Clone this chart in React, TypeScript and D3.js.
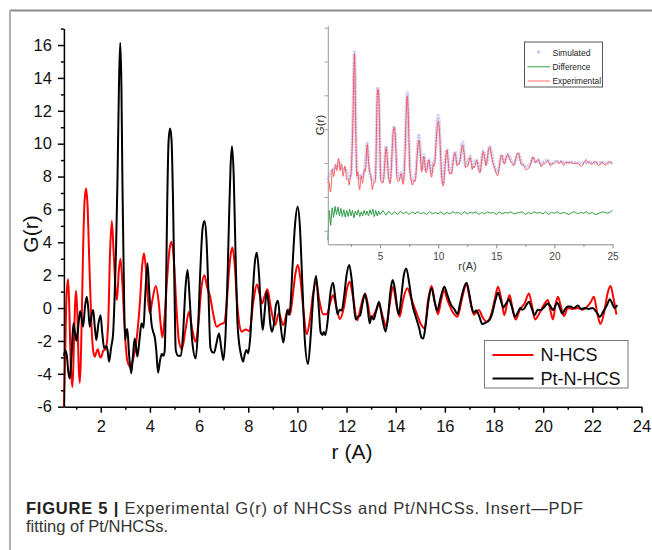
import React, { useEffect, useRef } from 'react';
import * as d3 from 'd3';

type Pt = [number, number];

// N-HCS, G(r) vs r (A)
const nHcs: Pt[] = [
  [0.5, -6], [0.55, -3], [0.6, 0.5], [0.67, 1.75], [0.72, 0], [0.78, -3.5], [0.85, -4.8], [0.91, -2], [0.96, 0.4],
  [1.0, 1.05], [1.05, -0.5], [1.1, -3.5], [1.15, -4.55], [1.2, -2.5], [1.28, 3.5], [1.34, 6.5], [1.4, 7.28],
  [1.46, 6.3], [1.53, 3], [1.62, -1], [1.7, -2.7], [1.76, -2.96], [1.82, -2.7], [1.88, -2.5], [1.95, -2.9],
  [2.01, -3.0], [2.1, -2.6], [2.2, -2.5], [2.3, -1], [2.38, 3.5], [2.45, 5.29], [2.52, 3.5], [2.6, 1.2],
  [2.66, 0.49], [2.73, 2.2], [2.8, 3.0], [2.88, 1.5], [2.98, -1.5], [3.08, -3.2], [3.2, -3.57], [3.3, -3.2],
  [3.45, -2], [3.6, 0.5], [3.68, 2.5], [3.76, 3.33], [3.84, 2.3], [3.92, 0.5], [4.0, -0.3], [4.1, 0.5],
  [4.24, 1.34], [4.36, 0.3], [4.45, -1.2], [4.51, -1.78], [4.6, -0.5], [4.7, 1.8], [4.8, 3.6], [4.88, 4.03],
  [4.97, 3.0], [5.08, 0], [5.18, -2.0], [5.3, -2.5], [5.45, -1.3], [5.59, -0.22], [5.72, -1.3], [5.86, -2.05],
  [5.98, -0.8], [6.1, 1.3], [6.22, 2.0], [6.32, 1.3], [6.45, 0.69], [6.58, -0.4], [6.72, -1.14], [6.85, -1.0],
  [7.02, -0.89], [7.12, 0.2], [7.22, 2.3], [7.3, 3.4], [7.36, 3.69], [7.45, 2.6], [7.55, 0.3], [7.65, -1.1],
  [7.74, -1.44], [7.9, -1.3], [8.05, -1.4], [8.2, 0.3], [8.35, 1.44], [8.47, 0.8], [8.56, 0.28], [8.66, 0.7],
  [8.78, 1.14], [8.92, 0], [9.1, -1.03], [9.24, -0.32], [9.43, -1.03], [9.55, -0.4], [9.62, -0.08], [9.7, -0.4],
  [9.8, 0.6], [9.92, 2.1], [10.02, 2.62], [10.12, 1.8], [10.25, -0.2], [10.38, -1.6], [10.5, -0.8], [10.63, 0.8],
  [10.76, 1.6], [10.9, 0.4], [11.05, -0.37], [11.2, -0.37], [11.33, 0.3], [11.45, 0.79], [11.58, 0.1],
  [11.73, -0.67], [11.9, 0.1], [12.02, 1.2], [12.13, 1.6], [12.27, 0.6], [12.43, -0.75], [12.6, 0.2],
  [12.75, 0.89], [12.87, 0.2], [12.98, -0.63], [13.15, -0.3], [13.32, 0.18], [13.47, -0.5], [13.62, -1.14],
  [13.75, 0.2], [13.89, 1.3], [14.02, 0.3], [14.16, -0.53], [14.3, 0.5], [14.47, 1.2], [14.65, 0.5],
  [14.87, -0.4], [15.03, -1.0], [15.18, -1.24], [15.3, 0.3], [15.46, 1.34], [15.6, 0.3], [15.72, -0.37],
  [15.84, 0.4], [15.96, 1.1], [16.1, 0.5], [16.3, -0.2], [16.51, -0.53], [16.7, 0.6], [16.88, 1.46],
  [17.02, 0.5], [17.18, -0.4], [17.38, -0.12], [17.55, -0.6], [17.7, -0.83], [17.9, -0.3], [18.04, 0.6],
  [18.16, 1.3], [18.3, 0.5], [18.42, -0.43], [18.52, 0.2], [18.63, 0.79], [18.75, 0], [18.88, -0.69],
  [19.05, -0.1], [19.25, 0.3], [19.42, 0.89], [19.55, 0.1], [19.67, -0.69], [19.85, -0.3], [20.03, 0.2],
  [20.19, 0.49], [20.3, -0.2], [20.4, -0.69], [20.5, 0.2], [20.6, 0.69], [20.72, 0.1], [20.84, -0.49],
  [21.0, 0.0], [21.2, -0.05], [21.4, 0.0], [21.6, -0.1], [21.8, 0.1], [21.95, 0.4], [22.06, 0.69],
  [22.2, -0.3], [22.33, -0.97], [22.5, -0.1], [22.62, 0.9], [22.74, 1.34], [22.86, 0.6], [22.98, -0.4],
];

// Pt-N-HCS, G(r) vs r (A)
const ptNhcs: Pt[] = [
  [0.5, -2.9], [0.56, -2.6], [0.62, -2.9], [0.68, -3.9], [0.74, -4.28], [0.8, -3.2], [0.89, -0.93], [0.95, -1.5],
  [1.01, -1.99], [1.08, -1.2], [1.16, -0.18], [1.22, -0.6], [1.28, -1.13], [1.36, 0.1], [1.43, 0.69], [1.49, 0],
  [1.55, -1.14], [1.62, -0.5], [1.69, -0.12], [1.76, -1.2], [1.82, -1.95], [1.9, -1.0], [1.99, -0.43],
  [2.06, -1.5], [2.14, -2.45], [2.22, -2.3], [2.27, -2.5], [2.34, -3.26], [2.42, -2.4], [2.5, -1.6], [2.56, 0.5],
  [2.62, 3.5], [2.68, 7.8], [2.74, 13.5], [2.79, 16.14], [2.84, 13.5], [2.88, 7.8], [2.93, 2.5], [2.99, -1.95],
  [3.04, -1.4], [3.08, -1.28], [3.15, -2.8], [3.24, -3.97], [3.31, -2.9], [3.38, -1.85], [3.44, -2.4],
  [3.49, -2.96], [3.57, -2.0], [3.66, -0.93], [3.74, -1.2], [3.8, 0.5], [3.9, 2.72], [3.98, 0.8], [4.06, -0.9],
  [4.13, -1.44], [4.2, -1.8], [4.26, -2.6], [4.33, -3.93], [4.41, -3.2], [4.48, -2.8], [4.55, -2.9], [4.6, -2.6],
  [4.65, 0.5], [4.7, 6], [4.76, 10.2], [4.82, 10.93], [4.88, 10.2], [4.94, 6.5], [5.0, 1], [5.05, -2.55],
  [5.15, -2.9], [5.26, -2.9], [5.35, -1.5], [5.45, 1.3], [5.53, 2.31], [5.62, 0.5], [5.72, -2.0], [5.86, -3.06],
  [5.95, -1.5], [6.05, 2.3], [6.14, 4.8], [6.22, 5.29], [6.3, 4.2], [6.38, 1.0], [6.46, -2.4], [6.55, -2.7],
  [6.61, -2.72], [6.7, -2.2], [6.81, -1.54], [6.9, -2.4], [6.99, -3.16], [7.08, -1.5], [7.16, 2.0], [7.22, 5.5],
  [7.28, 8.6], [7.34, 9.85], [7.41, 8.0], [7.48, 3.5], [7.55, -0.5], [7.63, -2.15], [7.7, -2.8], [7.79, -3.26],
  [7.86, -2.8], [7.93, -2.55], [8.0, -2.75], [8.08, -1.8], [8.18, 0.8], [8.27, 2.8], [8.35, 3.37], [8.44, 2.0],
  [8.52, -0.2], [8.59, -1.34], [8.67, -0.2], [8.75, 1.0], [8.83, 0.2], [8.9, -1.0], [8.97, -1.44], [9.05, -0.9],
  [9.13, 0.2], [9.21, 0.45], [9.3, -0.8], [9.43, -2.1], [9.52, -1.0], [9.59, -0.12], [9.66, -0.4], [9.72, 0.2],
  [9.8, 2.5], [9.9, 5.0], [10.01, 6.16], [10.1, 5.0], [10.2, 1.5], [10.3, -1.9], [10.43, -3.41], [10.55, -1.5],
  [10.65, 0.8], [10.76, 1.95], [10.86, 0.2], [10.95, -1.5], [11.02, -1.64], [11.07, -1.45], [11.14, -1.64],
  [11.25, -0.5], [11.35, 1.0], [11.45, 1.54], [11.55, 0.5], [11.63, -0.37], [11.72, -0.1], [11.8, -0.15],
  [11.9, 0.7], [12.0, 2.0], [12.11, 2.62], [12.22, 1.6], [12.37, -0.69], [12.48, -0.5], [12.55, -0.45],
  [12.65, 0.3], [12.75, 0.85], [12.85, 0.1], [12.94, -0.93], [13.02, -0.5], [13.1, -0.7], [13.2, -0.2],
  [13.32, 0.39], [13.45, -0.6], [13.59, -1.44], [13.7, -0.3], [13.8, 1.2], [13.88, 1.7], [13.98, 1.0],
  [14.06, 0], [14.13, -0.39], [14.22, 0.6], [14.33, 2.0], [14.43, 2.41], [14.55, 1.5], [14.68, 0.2],
  [14.81, -0.5], [14.95, -1.2], [15.05, -1.8], [15.12, -1.85], [15.22, -1.0], [15.35, 0.6], [15.46, 1.2],
  [15.58, 0.4], [15.69, -0.16], [15.82, 0.6], [15.98, 1.3], [16.1, 0.8], [16.25, 0.2], [16.4, -0.1],
  [16.51, -0.37], [16.62, 0.3], [16.75, 1.1], [16.88, 1.54], [17.0, 0.8], [17.1, 0.0], [17.18, -0.28],
  [17.28, -0.15], [17.4, -0.5], [17.52, -0.97], [17.65, -0.9], [17.83, -0.69], [17.95, -0.2], [18.06, 0.5],
  [18.16, 0.93], [18.27, 0.5], [18.38, 0.04], [18.5, 0.3], [18.6, 0.53], [18.72, 0.1], [18.85, -0.53],
  [18.96, -0.3], [19.07, 0.0], [19.15, -0.1], [19.22, -0.05], [19.32, 0.2], [19.42, 0.39], [19.53, 0],
  [19.65, -0.43], [19.78, -0.1], [19.9, -0.12], [20.03, 0.04], [20.19, 0.28], [20.3, 0.1], [20.4, -0.12],
  [20.57, 0.32], [20.68, 0.0], [20.77, -0.33], [20.9, -0.05], [21.0, 0.1], [21.1, 0.1], [21.25, 0.0],
  [21.41, 0.15], [21.55, -0.05], [21.7, 0.0], [21.85, -0.05], [22.0, 0.0], [22.15, -0.2], [22.3, -0.53],
  [22.45, -0.2], [22.6, 0.2], [22.71, 0.53], [22.8, 0.3], [22.9, 0.0], [23.01, 0.18],
];

// inset: experimental continues past 23 A
const expTail: Pt[] = [
  [23.2, -0.2], [23.5, 0.3], [23.8, -0.4], [24.1, 0.1], [24.4, -0.3], [24.7, 0.2], [25.0, -0.1],
];

// inset: simulated PDF
const simulated: Pt[] = [
  [0.5, -2.5], [0.7, -1.5], [0.9, -1.0], [1.1, -0.8], [1.3, -0.5], [1.45, 0.2], [1.6, -0.6], [1.8, -0.8],
  [2.0, -0.9], [2.2, -1.6], [2.35, -2.2], [2.5, -1.5], [2.6, 3], [2.68, 8], [2.74, 13.5], [2.79, 16.4],
  [2.84, 13.5], [2.9, 7], [2.97, 0.5], [3.05, -1.5], [3.2, -2.4], [3.35, -1.8], [3.5, -2.0], [3.7, -0.5],
  [3.9, 2.9], [4.05, -0.5], [4.2, -2.0], [4.35, -2.6], [4.55, -2.4], [4.65, 1], [4.72, 7], [4.8, 11.2],
  [4.88, 10], [4.95, 5], [5.03, -1.5], [5.2, -2.6], [5.35, -1.0], [5.52, 2.5], [5.68, -1.0], [5.85, -2.6],
  [6.0, 0.5], [6.12, 4.5], [6.22, 5.4], [6.35, 2.5], [6.5, -2.0], [6.65, -2.2], [6.8, -1.4], [6.98, -2.6],
  [7.15, 2], [7.28, 9], [7.34, 10.4], [7.43, 7], [7.55, -0.3], [7.7, -2.3], [7.85, -2.6], [8.02, -2.2],
  [8.2, 1.5], [8.33, 4.1], [8.45, 2], [8.6, -1.0], [8.75, 1.2], [8.95, -1.1], [9.2, 0.6], [9.42, -1.6],
  [9.6, 0], [9.72, 0.5], [9.88, 5.2], [10.0, 7.0], [10.12, 5], [10.28, -1.5], [10.43, -3.0], [10.6, 0.5],
  [10.76, 2.0], [10.95, -1.2], [11.1, -1.3], [11.3, 0.8], [11.45, 1.7], [11.63, -0.2], [11.85, 0.2],
  [12.1, 3.1], [12.35, -0.4], [12.75, 1.0], [12.95, -0.7], [13.3, 0.5], [13.58, -1.2], [13.88, 1.8],
  [14.13, -0.2], [14.43, 2.4], [14.8, -0.3], [15.12, -1.5], [15.45, 1.2], [15.7, 0.0], [15.98, 1.3],
  [16.5, -0.2], [16.88, 1.4], [17.2, 0.0], [17.55, -0.5], [17.85, -0.3], [18.16, 0.8], [18.4, 0.1],
  [18.6, 0.5], [18.85, -0.2], [19.1, 0.2], [19.42, 0.4], [19.7, -0.1], [20.1, 0.2], [20.6, 0.2], [21.0, 0.1],
  [21.5, 0.1], [22.0, 0.0], [22.5, 0.0], [23.0, 0.1], [23.5, 0.0], [24.0, 0.1], [24.5, 0.0], [25.0, 0.1],
];

// inset: difference curve (plotted offset), 0.5..5.0 every 0.125, then 5.25..25 every 0.25
const diffFine = [
  -11.4, -7.0, -9.2, -6.6, -8.0, -6.4, -7.6, -6.5, -7.8, -6.7,
  -7.9, -6.9, -8.0, -7.0, -7.9, -6.8, -7.8, -7.0, -8.1, -7.1,
  -7.7, -6.9, -7.9, -7.2, -7.8, -7.0, -7.7, -7.1, -7.8, -6.9,
  -7.6, -6.8, -7.9, -7.0, -7.8, -7.1, -7.6,
];
const diffCoarse = [
  -7.0, -7.7, -7.1, -7.6, -7.2, -7.6, -7.1, -7.5, -7.2, -7.6,
  -7.2, -7.5, -7.2, -7.5, -7.3, -7.6, -7.2, -7.5, -7.3, -7.5,
  -7.2, -7.6, -7.3, -7.5, -7.2, -7.4, -7.3, -7.6, -7.2, -7.5,
  -7.3, -7.4, -7.2, -7.6, -7.3, -7.5, -7.2, -7.4, -7.3, -7.6,
  -7.2, -7.5, -7.3, -7.4, -7.2, -7.5, -7.4, -7.3, -7.2, -7.6,
  -7.3, -7.5, -7.2, -7.4, -7.3, -7.5, -7.2, -7.6, -7.3, -7.4,
  -7.2, -7.5, -7.3, -7.4, -7.6, -7.3, -7.2, -7.5, -7.3, -7.4,
  -7.2, -7.5, -7.3, -7.6, -7.5, -7.3, -7.2, -7.4, -7.3, -7.0,
];

const xTicks = [2, 4, 6, 8, 10, 12, 14, 16, 18, 20, 22, 24];
const xMinor = [1, 3, 5, 7, 9, 11, 13, 15, 17, 19, 21, 23];
const yTicks = [-6, -4, -2, 0, 2, 4, 6, 8, 10, 12, 14, 16];
const yMinor = [-5, -3, -1, 1, 3, 5, 7, 9, 11, 13, 15, 17];
const inXTicks = [5, 10, 15, 20, 25];
const inXMinor = [2.5, 7.5, 12.5, 17.5, 22.5];
const inYTicks = [-10, -5, 0, 5, 10, 15, 20];

const series = [
  { name: 'N-HCS', color: '#ff0000', data: nHcs },
  { name: 'Pt-N-HCS', color: '#000000', data: ptNhcs },
];

const FONT = '"Liberation Sans", Arial, Helvetica, sans-serif';
const plain = (d: any) => String(d); // hyphen minus, as in the figure

export default function App() {
  const ref = useRef<SVGSVGElement>(null);

  // main scales
  const x = d3.scaleLinear().domain([0.5, 24]).range([63.9, 641.5]);
  const y = d3.scaleLinear().domain([-6, 17]).range([406.7, 28.6]);
  // inset scales
  const ix = d3.scaleLinear().domain([0.5, 25]).range([327.8, 612.5]);
  const iy = d3.scaleLinear().domain([-12, 20.3]).range([244.3, 25.6]);

  const line = d3.line<Pt>().x(d => x(d[0])).y(d => y(d[1])).curve(d3.curveMonotoneX);
  const iline = d3.line<Pt>().x(d => ix(d[0])).y(d => iy(d[1])).curve(d3.curveMonotoneX);
  const dline = d3.line<Pt>().x(d => ix(d[0])).y(d => iy(d[1]));

  const expData: Pt[] = ptNhcs.concat(expTail);
  const diffData: Pt[] = diffFine.map((v, i) => [0.5 + i * 0.125, v] as Pt)
    .concat(diffCoarse.map((v, i) => [5.25 + i * 0.25, v] as Pt));

  useEffect(() => {
    const svg = d3.select(ref.current);

    const style = (g: any, size: number, color: string, width: number, fill: string) => {
      g.attr('font-size', null).attr('font-family', null);
      g.selectAll('.domain').attr('stroke', color).attr('stroke-width', width);
      g.selectAll('.tick line').attr('stroke', color).attr('stroke-width', width);
      g.selectAll('text').attr('font-size', size).attr('font-family', FONT).attr('fill', fill);
    };

    // main axes
    svg.select('.x-minor')
      .call(d3.axisBottom(x).tickValues(xMinor).tickSize(3).tickFormat(() => '') as any)
      .call((g: any) => { g.select('.domain').remove(); style(g, 16, '#000', 1.5, '#000'); });
    svg.select('.x-axis')
      .call(d3.axisBottom(x).tickValues(xTicks).tickSize(6).tickSizeOuter(0).tickPadding(8).tickFormat(plain) as any)
      .call((g: any) => style(g, 16.5, '#000', 1.5, '#111'));
    svg.select('.y-minor')
      .call(d3.axisLeft(y).tickValues(yMinor).tickSize(3).tickFormat(() => '') as any)
      .call((g: any) => { g.select('.domain').remove(); style(g, 16, '#000', 1.5, '#000'); });
    svg.select('.y-axis')
      .call(d3.axisLeft(y).tickValues(yTicks).tickSize(6).tickSizeOuter(0).tickPadding(6).tickFormat(plain) as any)
      .call((g: any) => style(g, 16.5, '#000', 1.5, '#111'));

    // inset axes
    svg.select('.ix-minor')
      .call(d3.axisBottom(ix).tickValues(inXMinor).tickSize(2.5).tickFormat(() => '') as any)
      .call((g: any) => { g.select('.domain').remove(); style(g, 10, '#888', 1, '#444'); });
    svg.select('.ix-axis')
      .call(d3.axisBottom(ix).tickValues(inXTicks).tickSize(4).tickSizeOuter(0).tickPadding(5).tickFormat(plain) as any)
      .call((g: any) => style(g, 10, '#888', 1, '#444'));
    svg.select('.iy-axis')
      .call(d3.axisLeft(iy).tickValues(inYTicks).tickSize(3).tickSizeOuter(0).tickFormat(() => '') as any)
      .call((g: any) => style(g, 10, '#999', 1, '#444'));
  }, []);

  return (
    <svg ref={ref} width={652} height={550}
      style={{ position: 'absolute', left: 0, top: 0, background: '#fff' }}>
      {/* figure frame */}
      <line x1={10} y1={10.5} x2={652} y2={10.5} stroke="#8a8a8a" strokeWidth={2} />
      <line x1={10} y1={10} x2={10} y2={550} stroke="#b0b0b0" strokeWidth={2} />

      {/* main curves */}
      {series.map(s => (
        <path key={s.name} d={line(s.data) || ''} fill="none" stroke={s.color}
          strokeWidth={2} strokeLinejoin="round" />
      ))}

      <g className="x-minor" transform={`translate(0,${y(-6)})`} />
      <g className="x-axis" transform={`translate(0,${y(-6)})`} />
      <g className="y-minor" transform={`translate(${x(0.5)},0)`} />
      <g className="y-axis" transform={`translate(${x(0.5)},0)`} />

      <text x={30} y={234} transform="rotate(-90 30 234)" textAnchor="middle" dominantBaseline="central"
        fontSize={21} fontFamily={FONT} fill="#111">G(r)</text>
      <text x={352} y={459} textAnchor="middle" fontSize={21} fontFamily={FONT} fill="#111">r (A)</text>

      {/* main legend */}
      <rect x={484.5} y={340.5} width={143.5} height={47.5} fill="#fff" stroke="#777" strokeWidth={1} />
      {series.map((s, i) => (
        <g key={s.name} transform={`translate(0,${355 + i * 23.5})`}>
          <line x1={492.5} x2={533.5} y1={0} y2={0} stroke={s.color} strokeWidth={2} />
          <text x={540.5} y={0} dominantBaseline="central" fontSize={18} fontFamily={FONT} fill="#111">{s.name}</text>
        </g>
      ))}

      {/* inset */}
      <path d={iline(simulated) || ''} fill="none" stroke="#b4b8f2" strokeWidth={3.2}
        strokeOpacity={0.75} strokeDasharray="2 0.8" />
      <path d={iline(expData) || ''} fill="none" stroke="#ff4a4a" strokeWidth={0.9} />
      <path d={dline(diffData) || ''} fill="none" stroke="#2f9e46" strokeWidth={1} />

      <g className="ix-minor" transform={`translate(0,${iy(-12)})`} />
      <g className="ix-axis" transform={`translate(0,${iy(-12)})`} />
      <g className="iy-axis" transform={`translate(${ix(0.5)},0)`} />

      <text x={320} y={125} transform="rotate(-90 320 125)" textAnchor="middle" dominantBaseline="central"
        fontSize={11.5} fontFamily={FONT} fill="#333">G(r)</text>
      <text x={467.5} y={270} textAnchor="middle" fontSize={11} fontFamily={FONT} fill="#333">r(A)</text>

      {/* inset legend */}
      <rect x={524.5} y={42} width={78} height={45} fill="#fff" stroke="#555" strokeWidth={1} />
      <rect x={537} y={50.5} width={3} height={3} fill="#c4c8f6" />
      <text x={552.5} y={52.5} dominantBaseline="central" fontSize={9} fontFamily={FONT} fill="#222"
        textLength={38} lengthAdjust="spacingAndGlyphs">Simulated</text>
      <line x1={527.5} x2={550} y1={66.8} y2={66.8} stroke="#2f9e46" strokeWidth={1} />
      <text x={552.5} y={66.8} dominantBaseline="central" fontSize={9} fontFamily={FONT} fill="#222"
        textLength={38} lengthAdjust="spacingAndGlyphs">Difference</text>
      <line x1={527.5} x2={550} y1={81} y2={81} stroke="#ff7070" strokeWidth={1} />
      <text x={552.5} y={81} dominantBaseline="central" fontSize={9} fontFamily={FONT} fill="#222"
        textLength={48.5} lengthAdjust="spacingAndGlyphs">Experimental</text>

      {/* caption */}
      <text x={26} y={514} fontSize={16.5} fontFamily={FONT} fill="#333" textLength={557} lengthAdjust="spacing">
        <tspan fontWeight="bold" fill="#222">FIGURE 5 |</tspan> Experimental G(r) of NHCSs and Pt/NHCSs. Insert—PDF
      </text>
      <text x={26} y={532} fontSize={16.5} fontFamily={FONT} fill="#333">fitting of Pt/NHCSs.</text>
    </svg>
  );
}
